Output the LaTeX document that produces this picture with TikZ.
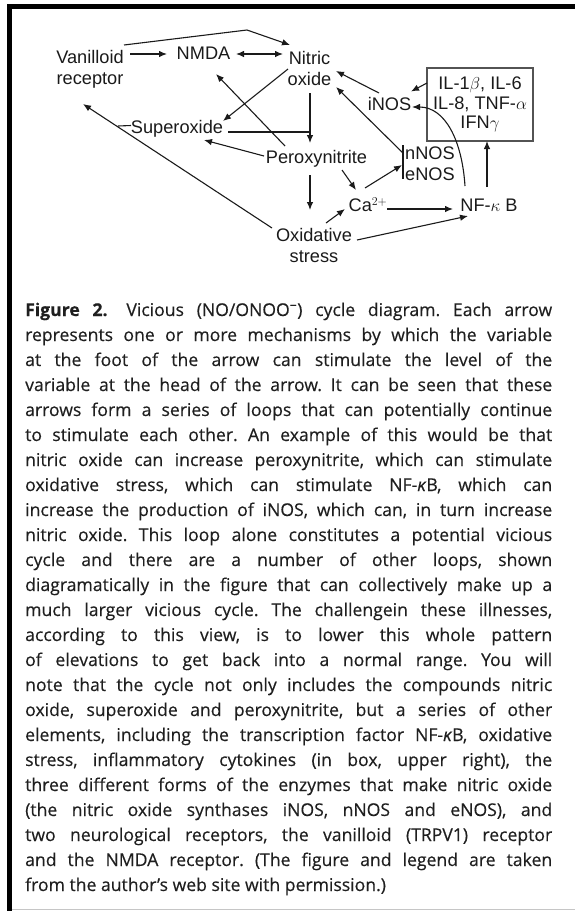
\documentclass[tikz,border=0pt]{standalone}
\usepackage{fontspec}
\setmainfont{Liberation Sans}
\newfontfamily\capfont[FakeBold=0.35]{Open Sans}
\usetikzlibrary{arrows.meta}
\definecolor{ink}{HTML}{1A1A1A}
\definecolor{capink}{HTML}{1F1F1F}
\newcommand\cl[1]{\hbox to 527pt{#1}}
\tikzset{
  lbl/.style={inner sep=0pt, text=ink, font=\fontsize{18.2}{21}\selectfont, align=center},
  con/.style={line width=1.1pt, draw=ink},
  arr/.style={con, -{Latex[length=8pt,width=6.5pt]}},
  darr/.style={con, {Latex[length=8pt,width=6.5pt]}-{Latex[length=8pt,width=6.5pt]}},
}
\begin{document}
\begin{tikzpicture}[x=1pt,y=-1pt]
\useasboundingbox (0,0) rectangle (575,911);
% frame
\draw[line width=4.5pt, black] (7,6.5) -- (575,6.5);
\draw[line width=4.5pt, black] (9.5,4) -- (9.5,911);
\draw[line width=1.5pt, gray!45] (12,909.5) -- (575,909.5);
% nodes
\node[lbl] (van) at (90,69.4) {Vanilloid\\receptor};
\node[lbl] (nmda) at (203.5,53.5) {NMDA};
\node[lbl] (no) at (309.5,68) {Nitric\\oxide};
\node[lbl] (sup) at (177,128.3) {Superoxide};
\node[lbl] (per) at (316.5,158.3) {Peroxynitrite};
\node[lbl] (inos) at (389.5,103.5) {iNOS};
\node[lbl, draw=ink!75, line width=1.4pt, minimum width=106pt, minimum height=73pt,
      font=\fontsize{18.2}{19.5}\selectfont] (cyt) at (480,104.5)
      {IL-1$\beta$, IL-6\\IL-8, TNF-$\alpha$\\IFN$\gamma$};
\node[lbl, align=left] (nnos) at (430,164) {nNOS\\eNOS};
\node[lbl] (ca) at (368,205) {Ca$^{2+}$};
\node[lbl] (nfkb) at (489,205.5) {NF-$\kappa$ B};
\node[lbl] (ox) at (314,245.5) {Oxidative\\stress};
% connectors
\draw[arr] ([shift={(40,-15.4)}]van.center) -- ([shift={(-36.5,0.5)}]nmda.center);
\draw[darr] ([shift={(32.5,0.5)}]nmda.center) -- ([shift={(-26.5,-14)}]no.center);
\draw[arr] ([shift={(34,-24.4)}]van.center) -- ([shift={(43.5,-23.5)}]nmda.center) -- ([shift={(-19.5,-23)}]no.center);
\draw[arr] ([shift={(-21.5,1)}]no.center) -- ([shift={(46,-7.3)}]sup.center);
\draw[arr] ([shift={(0.5,25)}]no.center) -- ([shift={(-6.5,-15.3)}]per.center);
\draw[con] ([shift={(51,3.7)}]sup.center) -- ([shift={(-6.5,-26.3)}]per.center);
\draw[arr] ([shift={(-31.5,-12.3)}]per.center) -- ([shift={(12.5,20.5)}]nmda.center);
\draw[arr] ([shift={(-52.5,-2.3)}]per.center) -- ([shift={(27,11.7)}]sup.center);
\draw[arr] ([shift={(-42,-17.5)}]ox.center) -- ([shift={(-7,34.6)}]van.center);
\draw[con] ([shift={(-46,-2.8)}]sup.center) -- ([shift={(-59,-2.3)}]sup.center);
\draw[arr] ([shift={(-6.5,16.7)}]per.center) -- ([shift={(-4,-35.5)}]ox.center);
\draw[arr] ([shift={(25.5,11.7)}]per.center) -- ([shift={(-12,-15)}]ca.center);
\draw[arr] ([shift={(12,-22.5)}]ox.center) -- ([shift={(-23,4)}]ca.center);
\draw[arr] ([shift={(-3,-17)}]ca.center) -- ([shift={(-28,1)}]nnos.center);
\draw[arr] ([shift={(19,4)}]ca.center) -- ([shift={(-36,3.5)}]nfkb.center);
\draw[arr] ([shift={(43,-5.5)}]ox.center) -- ([shift={(-21,10.5)}]nfkb.center);
\draw[con] ([shift={(-27,-19)}]nnos.center) -- ([shift={(-27,15)}]nnos.center);
\draw[arr] ([shift={(-27,-11)}]nnos.center) -- ([shift={(26.5,19)}]no.center);
\draw[arr] ([shift={(-10.5,-10.5)}]inos.center) -- ([shift={(26.5,3)}]no.center);
\draw[arr] ([shift={(-53,-21.5)}]cyt.center) -- ([shift={(21.5,-12)}]inos.center);
\draw[arr] ([shift={(-24,-19.5)}]nfkb.center) .. controls ([shift={(-27,-65.5)}]nfkb.center) and ([shift={(55.5,3.5)}]inos.center) .. ([shift={(22.5,3.5)}]inos.center);
\draw[arr] ([shift={(-2,-18.5)}]nfkb.center) -- ([shift={(7,36.5)}]cyt.center);
% caption
\node[anchor=base west, inner sep=0pt, text=capink] (cap) at (25,316) {\parbox[t]{527pt}{\capfont\fontsize{17.6}{25}\selectfont\frenchspacing
\spaceskip=0.26em plus 1em minus 0.1em
\cl{\textbf{Figure 2.}\hspace{0.35em} Vicious (NO/ONOO\textsuperscript{−}) cycle diagram. Each arrow}
\cl{represents one or more mechanisms by which the variable}
\cl{at the foot of the arrow can stimulate the level of the}
\cl{variable at the head of the arrow. It can be seen that these}
\cl{arrows form a series of loops that can potentially continue}
\cl{to stimulate each other. An example of this would be that}
\cl{nitric oxide can increase peroxynitrite, which can stimulate}
\cl{oxidative stress, which can stimulate NF-\textit{κ}B, which can}
\cl{increase the production of iNOS, which can, in turn increase}
\cl{nitric oxide. This loop alone constitutes a potential vicious}
\cl{cycle and there are a number of other loops, shown}
\cl{diagramatically in the figure that can collectively make up a}
\cl{much larger vicious cycle. The challengein these illnesses,}
\cl{according to this view, is to lower this whole pattern}
\cl{of elevations to get back into a normal range. You will}
\cl{note that the cycle not only includes the compounds nitric}
\cl{oxide, superoxide and peroxynitrite, but a series of other}
\cl{elements, including the transcription factor NF-\textit{κ}B, oxidative}
\cl{stress, inflammatory cytokines (in box, upper right), the}
\cl{three different forms of the enzymes that make nitric oxide}
\cl{(the nitric oxide synthases iNOS, nNOS and eNOS), and}
\cl{two neurological receptors, the vanilloid (TRPV1) receptor}
\cl{and the NMDA receptor. (The figure and legend are taken}
\hbox{from the author’s web site with permission.)}}};
\end{tikzpicture}
\end{document}
